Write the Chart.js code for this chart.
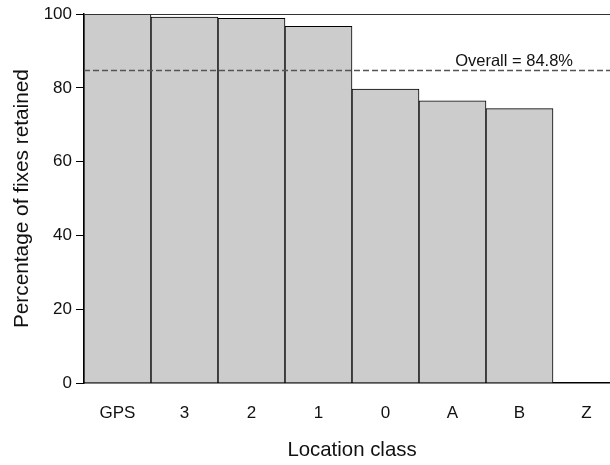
<!DOCTYPE html>
<html>
<head>
<meta charset="utf-8">
<style>
  html, body { margin: 0; padding: 0; background: #fff; overflow: hidden; }
  #wrap { width: 620px; height: 465px; }
</style>
<script src="https://cdn.jsdelivr.net/npm/chart.js@4.4.1/dist/chart.umd.min.js"></script>
</head>
<body>
<div id="wrap"><canvas id="chart" width="620" height="465"></canvas></div>
<script>
// Location classes and share of fixes kept after filtering (%)
const locationClasses = ['GPS', '3', '2', '1', '0', 'A', 'B', 'Z'];
const retainedPct = [100, 99.2, 98.9, 96.7, 79.7, 76.5, 74.4, 0];
const overallPct = 84.8;
const yTicks = [0, 20, 40, 60, 80, 100];

const FONT = '"Liberation Sans", Arial, Helvetica, sans-serif';

// Frame top edge plus the dashed overall reference line with its label
const overlay = {
  id: 'overlay',
  afterDatasetsDraw(chart) {
    const { ctx, chartArea } = chart;
    const y = chart.scales.y;
    ctx.save();
    // top border of the plot frame
    ctx.strokeStyle = '#333';
    ctx.lineWidth = 1;
    ctx.beginPath();
    ctx.moveTo(chartArea.left, Math.round(chartArea.top) + 0.5);
    ctx.lineTo(chartArea.right, Math.round(chartArea.top) + 0.5);
    ctx.stroke();
    // overall mean line
    const yp = Math.round(y.getPixelForValue(overallPct)) + 0.5;
    ctx.strokeStyle = '#555';
    ctx.lineWidth = 1.3;
    ctx.setLineDash([6, 3]);
    ctx.beginPath();
    ctx.moveTo(chartArea.left, yp);
    ctx.lineTo(chartArea.right, yp);
    ctx.stroke();
    ctx.setLineDash([]);
    ctx.fillStyle = '#111';
    ctx.font = '16.5px ' + FONT;
    ctx.textAlign = 'right';
    ctx.textBaseline = 'alphabetic';
    const x = chart.scales.x;
    ctx.fillText('Overall = ' + overallPct.toFixed(1) + '%', (x.getPixelForValue(6) + x.getPixelForValue(7)) / 2 + 20, yp - 5);
    ctx.restore();
  }
};

new Chart(document.getElementById('chart'), {
  type: 'bar',
  data: {
    labels: locationClasses,
    datasets: [{
      data: retainedPct,
      backgroundColor: '#cccccc',
      borderColor: '#000',
      borderWidth: 1,
      barPercentage: 1,
      categoryPercentage: 1
    }]
  },
  options: {
    responsive: false,
    animation: false,
    devicePixelRatio: 1,
    layout: { padding: { top: 14, right: 0, bottom: 0, left: 0 } },
    plugins: { legend: { display: false }, tooltip: { enabled: false } },
    scales: {
      x: {
        offset: true,
        grid: { display: false, drawTicks: false },
        border: { display: true, color: '#000', width: 1.5 },
        ticks: { color: '#111', font: { family: FONT, size: 17 }, padding: 20, maxRotation: 0 },
        title: { display: true, text: 'Location class', color: '#111', font: { family: FONT, size: 20.4 }, padding: { top: 0, bottom: 2 } },
        afterFit(scale) { scale.height = 82; }
      },
      y: {
        min: 0,
        max: 100,
        afterBuildTicks(scale) { scale.ticks = yTicks.map(v => ({ value: v })); },
        grid: { drawOnChartArea: false, drawTicks: true, tickLength: 8, color: '#000', tickWidth: 1 },
        border: { display: true, color: '#000', width: 1.5 },
        ticks: { color: '#111', font: { family: FONT, size: 17 }, padding: 4 },
        title: { display: true, text: 'Percentage of fixes retained', color: '#111', font: { family: FONT, size: 20.8 }, padding: { top: 10, bottom: 0 } },
        afterFit(scale) { scale.width = 84; }
      }
    }
  },
  plugins: [overlay]
});
</script>
</body>
</html>
